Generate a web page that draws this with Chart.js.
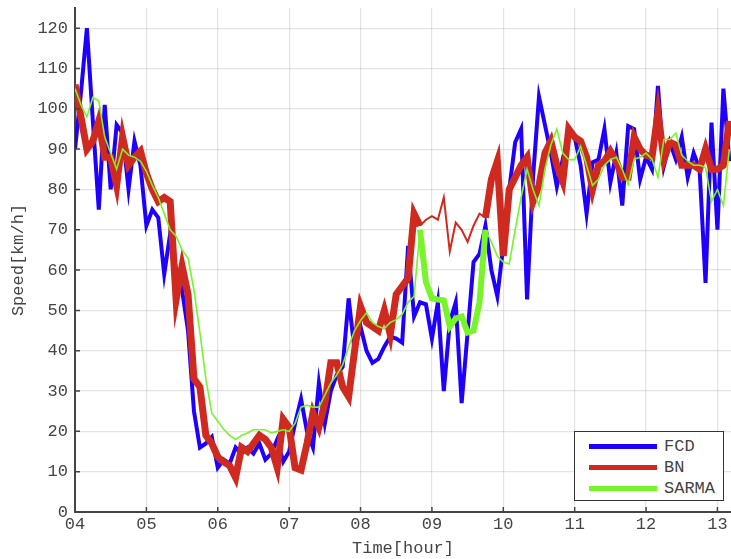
<!DOCTYPE html>
<html>
<head>
<meta charset="utf-8">
<script src="https://cdn.jsdelivr.net/npm/chart.js@4/dist/chart.umd.min.js"></script>
<style>
  body { margin: 0; background: #fff; }
  #wrap { position: relative; width: 731px; height: 559px; }
  #legend {
    position: absolute; left: 574px; top: 431px; width: 148px; height: 68px;
    border: 1.5px solid #333; background: #fff;
    font-family: "Liberation Mono", monospace; font-size: 17px; color: #444;
  }
  .row { position: absolute; left: 0; height: 20px; display: flex; align-items: center; }
  .swatch { width: 68px; height: 5px; margin-left: 14px; margin-right: 7px; }
</style>
</head>
<body>
<div id="wrap">
  <canvas id="speed-chart"></canvas>
  <div id="legend"></div>
</div>
<script>
// samples every 5 minutes starting at 04:00
const START_HOUR = 4;
const STEP_HOURS = 5 / 60;

const fcd = [
  90, 104, 120, 97, 75, 101, 80, 96, 94, 80, 92, 86, 71, 75, 73, 59, 69, 60, 55, 45,
  25, 16, 17, 18.6, 11, 13, 12, 16, 14.5, 16, 14.5, 17, 13, 14.5, 18, 12.5, 15, 22, 28, 20,
  16, 32, 22, 30, 34, 36, 53, 40, 46, 40, 37, 38, 41, 43.5, 43, 42, 66, 48.5, 52, 51.5,
  43, 52, 30, 47, 52, 27, 44.5, 62, 64, 71, 60, 53.5, 66, 80, 91.7, 95, 52.7, 83, 103, 96,
  89, 80.7, 87.5, 94, 93, 86, 74, 86.7, 87.4, 95, 81.7, 89, 76, 95.7, 95, 82.5, 88, 85, 105.7, 85.8,
  91.7, 87.5, 93, 83, 89, 85, 56.8, 96.6, 70, 105, 87
];

const bn = [
  106, 98, 90, 92, 97, 88, 88, 81, 93, 86, 88, 89.5, 84, 80, 77, 78, 77, 52.7, 61, 54,
  33, 31, 19, 17, 13.7, 12.4, 11.5, 8.5, 16, 15, 17, 19, 18, 16, 11, 23, 21, 11, 10.4, 17,
  24.6, 21, 27, 37, 37, 31, 28.6, 40, 51, 47, 46, 45, 50, 44, 54, 56, 58, 74, 71, 72.5,
  73.4, 72.5, 78, 64.6, 71.8, 70, 67, 71, 74, 73, 82.5, 87, 63.5, 80, 83, 86, 88, 77, 81, 89,
  92, 86, 82, 95, 93, 92, 88, 80, 86, 87, 89.5, 87, 83, 83, 93, 90, 88.5, 88, 99, 87.5,
  91.7, 91, 86, 86, 86, 85, 90, 85, 85, 86, 97
];

const sarma = [
  105, 101, 98, 102.8, 102, 93, 89, 85, 90, 88.5, 88, 87, 84.5, 81, 78, 74, 70, 68.4, 65, 63,
  55, 44.5, 33, 24.5, 22.5, 20.5, 19, 18, 19, 19.6, 20.4, 20.4, 20.4, 19.6, 20, 20.4, 20, 22, 26, 26.5,
  26, 26, 29, 32, 34, 36.5, 41, 45, 47.5, 49.4, 47, 46, 45.5, 47, 47.7, 49, 52, 53.5, 70, 57,
  53, 52.7, 52.5, 46, 48, 48.5, 44.5, 45, 52, 70, 67, 63.4, 62, 61.5, 70, 78, 85, 80, 76, 85,
  91, 95, 89, 87.4, 87.4, 90.7, 86, 81, 82.5, 86, 87.4, 88, 85, 81.2, 87.5, 88, 89, 87.5, 83, 92.4,
  92.4, 94, 88.5, 87, 86, 86, 85.5, 77, 80, 76, 90
];

// window where BN is drawn thin and SARMA thick
const TEST_FROM = 8.8;
const TEST_TO = 9.77;

const xTicks = [4, 5, 6, 7, 8, 9, 10, 11, 12, 13];

const toPoints = arr => arr.map((v, i) => ({ x: START_HOUR + i * STEP_HOURS, y: v }));
const inTest = ctx => ctx.p0.parsed.x >= TEST_FROM && ctx.p1.parsed.x <= TEST_TO;

const axisColor = '#444';
const gridColor = 'rgba(0,0,0,0.11)';
const textFont = { family: 'Liberation Mono', size: 17 };

// MATLAB style ticks pointing into the plot
const innerTicks = {
  id: 'innerTicks',
  afterDatasetsDraw(chart) {
    const { ctx, chartArea, scales } = chart;
    ctx.save();
    ctx.strokeStyle = axisColor;
    ctx.lineWidth = 1.5;
    ctx.beginPath();
    scales.x.ticks.forEach(t => {
      const px = scales.x.getPixelForValue(t.value);
      ctx.moveTo(px, chartArea.bottom);
      ctx.lineTo(px, chartArea.bottom - 5);
    });
    scales.y.ticks.forEach(t => {
      const py = scales.y.getPixelForValue(t.value);
      ctx.moveTo(chartArea.left, py);
      ctx.lineTo(chartArea.left + 5, py);
    });
    ctx.stroke();
    ctx.restore();
  }
};

const datasets = [
  {
    label: 'FCD', data: toPoints(fcd), borderColor: '#1f00ff',
    borderWidth: 4, order: 3
  },
  {
    label: 'BN', data: toPoints(bn), borderColor: '#cf2a1f',
    borderWidth: 7, order: 2,
    segment: { borderWidth: ctx => inTest(ctx) ? 2 : 7 }
  },
  {
    label: 'SARMA', data: toPoints(sarma), borderColor: '#78f42a',
    borderWidth: 1.6, order: 1,
    segment: { borderWidth: ctx => inTest(ctx) ? 6 : 1.6 }
  }
];

new Chart(document.getElementById('speed-chart').getContext('2d'), {
  type: 'line',
  data: {
    datasets: datasets.map(d => Object.assign({
      pointRadius: 0, tension: 0, fill: false
    }, d))
  },
  options: {
    responsive: true,
    maintainAspectRatio: false,
    animation: false,
    layout: { padding: 0 },
    plugins: { legend: { display: false }, tooltip: { enabled: false } },
    scales: {
      x: {
        type: 'linear', min: 4, max: 13.19,
        afterFit: scale => { scale.height = 47; },
        afterBuildTicks: scale => { scale.ticks = xTicks.map(v => ({ value: v })); },
        ticks: {
          font: textFont, color: axisColor, padding: 2, maxRotation: 0,
          callback: v => String(v).padStart(2, '0')
        },
        grid: { color: gridColor, lineWidth: 1.2, drawTicks: false },
        border: { display: true, color: axisColor, width: 2 },
        title: {
          display: true, text: 'Time[hour]', font: textFont, color: axisColor,
          padding: { top: 0, bottom: 0 }
        }
      },
      y: {
        min: 0, max: 125,
        afterFit: scale => { scale.width = 75; scale.paddingTop = 8; },
        ticks: {
          stepSize: 10, includeBounds: false,
          font: textFont, color: axisColor, padding: 7
        },
        grid: { color: gridColor, lineWidth: 1.2, drawTicks: false },
        border: { display: true, color: axisColor, width: 2 },
        title: {
          display: true, text: 'Speed[km/h]', font: textFont, color: axisColor,
          padding: { top: 8, bottom: 0 }
        }
      }
    }
  },
  plugins: [innerTicks]
});

// legend box inside the plot, lower right
const legend = document.getElementById('legend');
datasets.forEach((d, i) => {
  const row = document.createElement('div');
  row.className = 'row';
  row.style.top = (4 + i * 21) + 'px';
  row.innerHTML = '<span class="swatch" style="background:' + d.borderColor + '"></span>' + d.label;
  legend.appendChild(row);
});
</script>
</body>
</html>
